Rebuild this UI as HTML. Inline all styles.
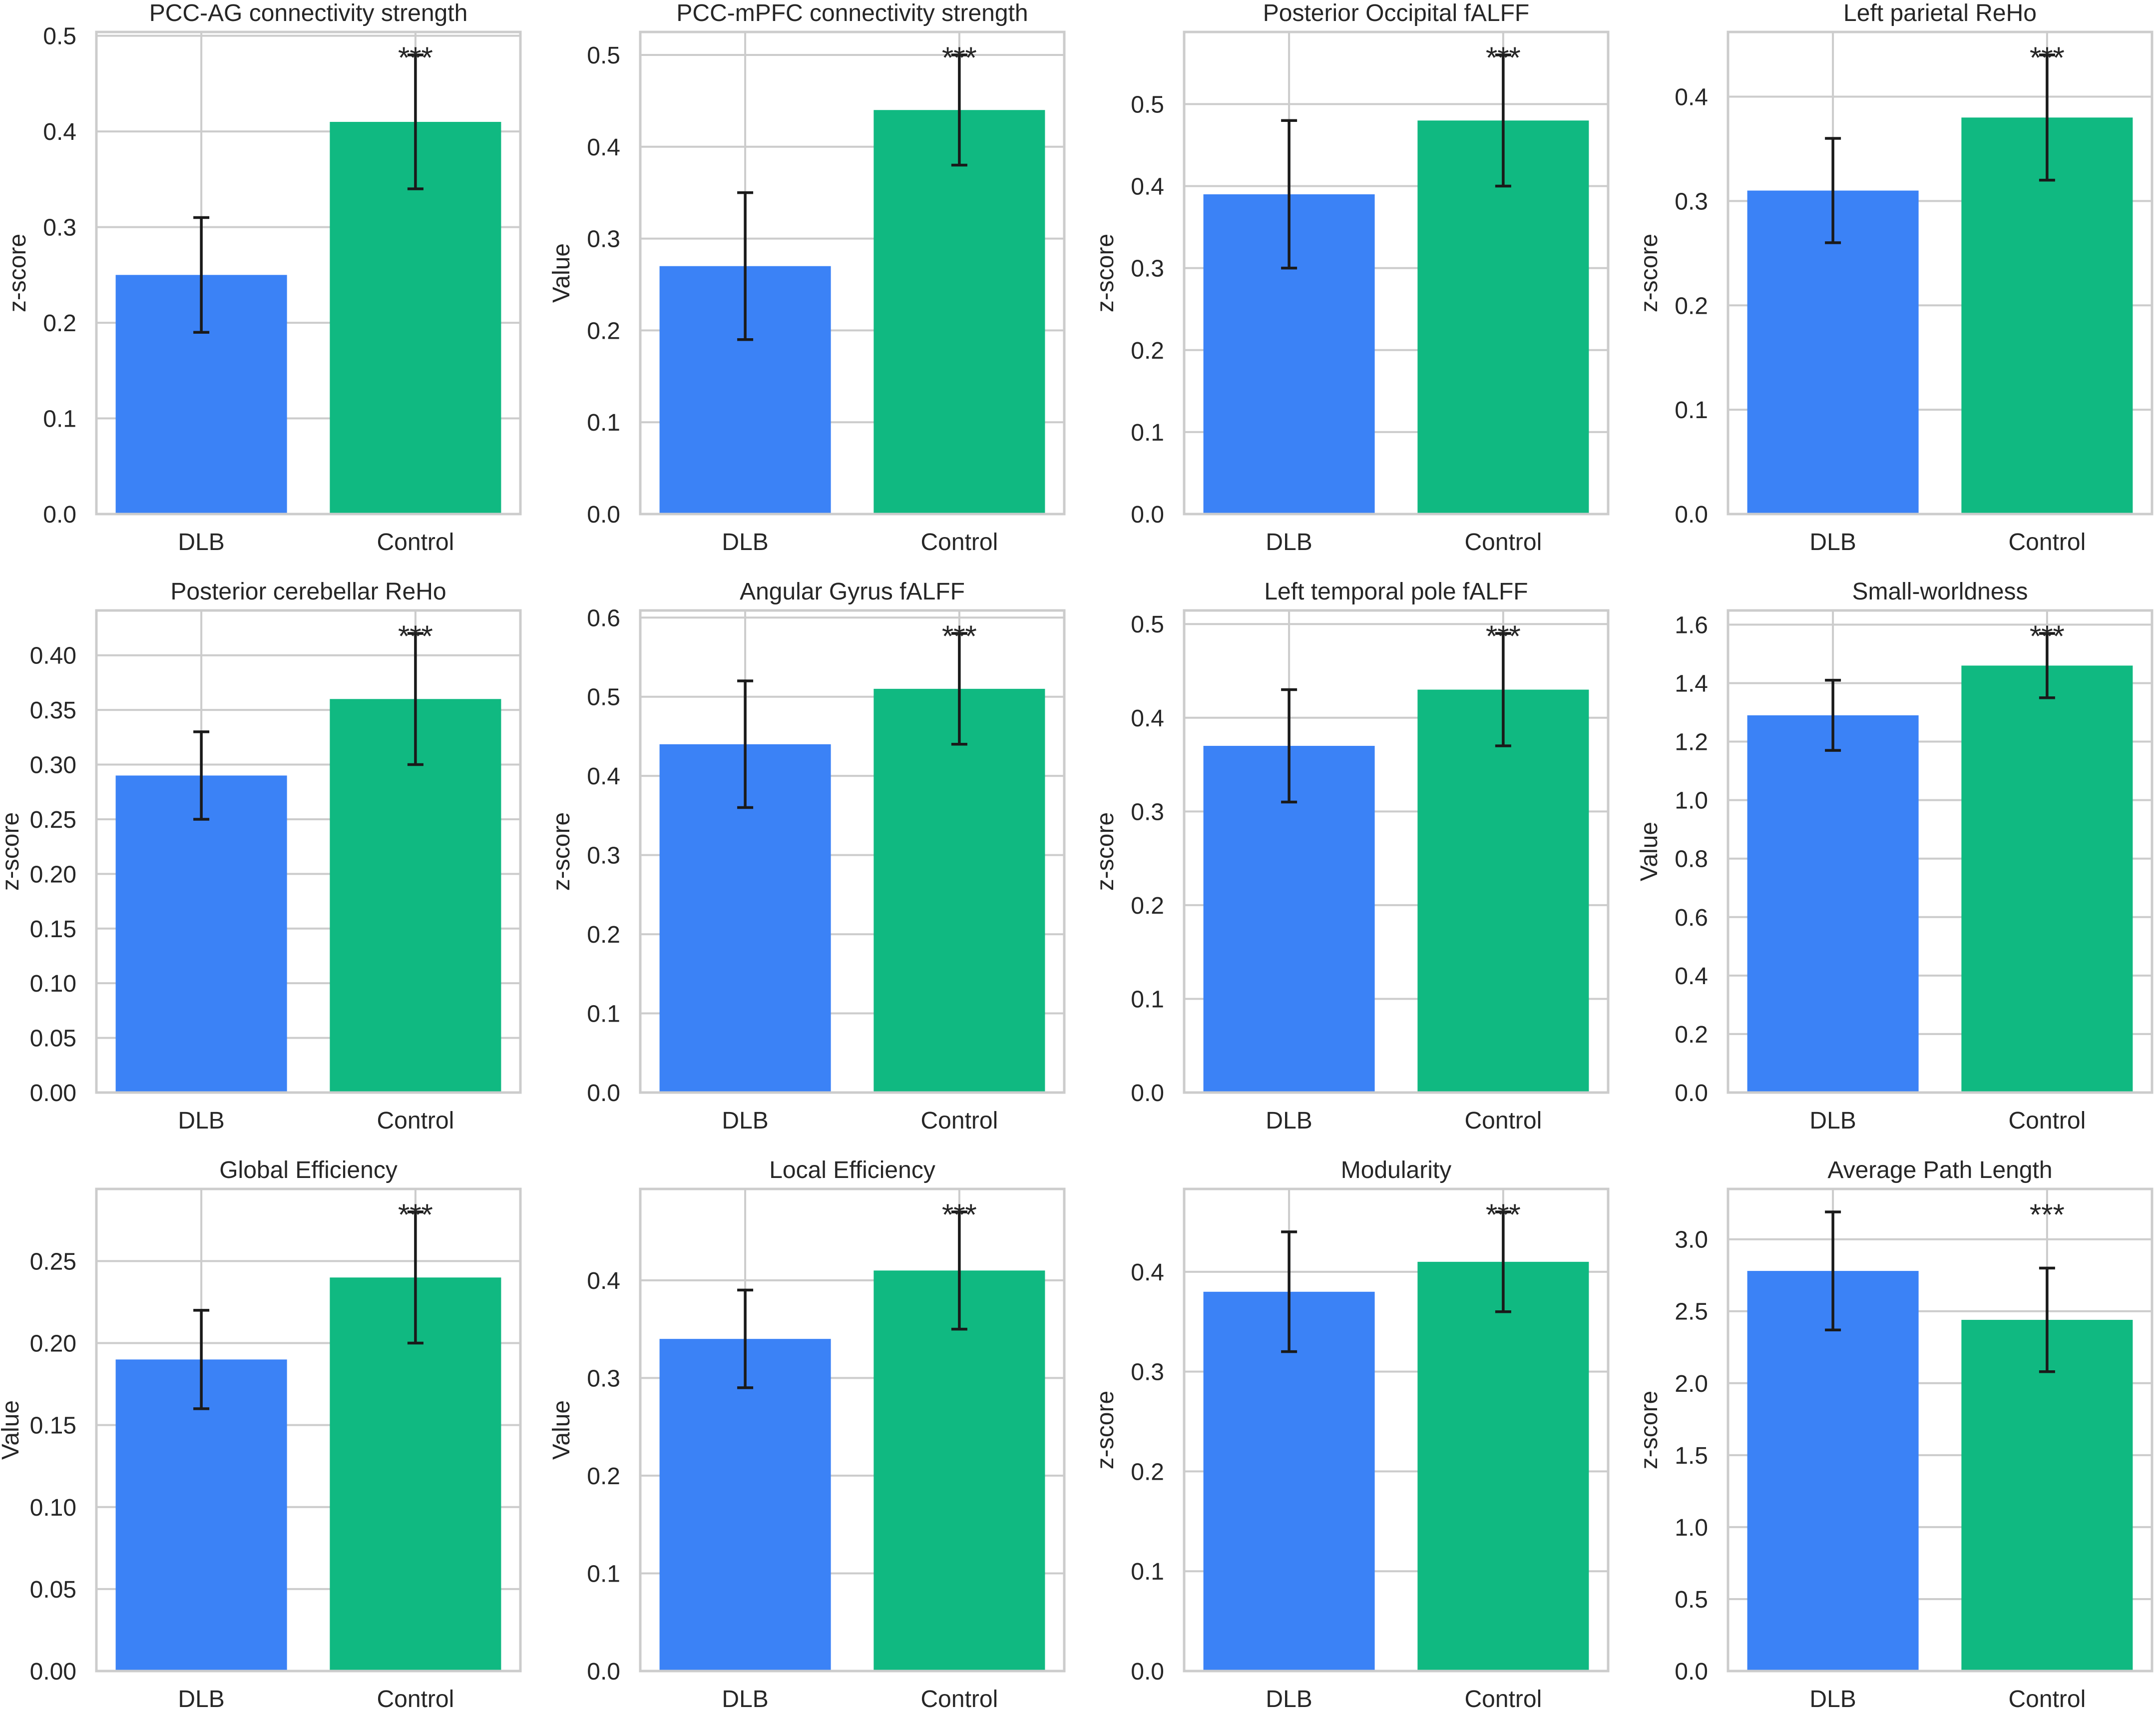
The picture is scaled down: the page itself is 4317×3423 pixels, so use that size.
<!DOCTYPE html>
<html><head><meta charset="utf-8"><style>
html,body{margin:0;padding:0;background:#fff;}
svg{display:block;}
text{font-family:"Liberation Sans",Arial,sans-serif;fill:#262626;}
</style></head>
<body>
<svg id="fig" width="4317" height="3423" viewBox="0 0 4317 3423" xmlns="http://www.w3.org/2000/svg"></svg>
<script>
const titles = ["PCC-AG connectivity strength","PCC-mPFC connectivity strength","Posterior Occipital fALFF","Left parietal ReHo","Posterior cerebellar ReHo","Angular Gyrus fALFF","Left temporal pole fALFF","Small-worldness","Global Efficiency","Local Efficiency","Modularity","Average Path Length"];
const ylabels = ["z-score","Value","z-score","z-score","z-score","z-score","z-score","Value","Value","Value","z-score","z-score"];
const categories = ["DLB","Control"];
const dlbValues = [0.25,0.27,0.39,0.31,0.29,0.44,0.37,1.29,0.19,0.34,0.38,2.78];
const dlbErrors = [0.06,0.08,0.09,0.05,0.04,0.08,0.06,0.12,0.03,0.05,0.06,0.41];
const ctrlValues = [0.41,0.44,0.48,0.38,0.36,0.51,0.43,1.46,0.24,0.41,0.41,2.44];
const ctrlErrors = [0.07,0.06,0.08,0.06,0.06,0.07,0.06,0.11,0.04,0.06,0.05,0.36];
const tickSteps = [0.1,0.1,0.1,0.1,0.05,0.1,0.1,0.2,0.05,0.1,0.1,0.5];
const tickDecimals = [1,1,1,1,2,1,1,1,2,1,1,1];
const significance = ["***","***","***","***","***","***","***","***","***","***","***","***"];

const NS="http://www.w3.org/2000/svg";
const svg=document.getElementById('fig');
function mk(tag,attrs,parent){const e=document.createElementNS(NS,tag);for(const k in attrs)e.setAttribute(k,attrs[k]);(parent||svg).appendChild(e);return e;}
const colors=["#3b82f6","#10b981"];
const L0=193,T0=64,W=849,H=965,DX=1089,DY=1158;
for(let p=0;p<12;p++){
  const col=p%4,row=Math.floor(p/4);
  const L=L0+col*DX,T=T0+row*DY,B=T+H,R=L+W;
  const g=mk('g',{});
  
  
  const vals=[dlbValues[p],ctrlValues[p]],errs=[dlbErrors[p],ctrlErrors[p]];
  const top=Math.max(vals[0]+errs[0],vals[1]+errs[1]);
  const ymax=top*1.05;
  const ys=v=>B-v/ymax*H;
  const xs=v=>L+(v+0.49)/1.98*W;
  const step=tickSteps[p];
  for(let i=0;i*step<=ymax+1e-9;i++){
    const v=i*step,y=ys(v);
    const gl=mk('line',{x1:L,x2:R,y1:y,y2:y,stroke:"#cccccc","stroke-width":4},g);
    
    
    const t=mk('text',{x:L-40,y:y+17,"text-anchor":"end","font-size":48},g);
    t.textContent=v.toFixed(tickDecimals[p]);
    
    
  }
  for(let c=0;c<2;c++){
    const gl=mk('line',{x1:xs(c),x2:xs(c),y1:T,y2:B,stroke:"#cccccc","stroke-width":4},g);
    
    
  }
  for(let c=0;c<2;c++){
    const x0=xs(c-0.4),x1=xs(c+0.4);
    const r=mk('rect',{x:x0,y:ys(vals[c]),width:x1-x0,height:B-ys(vals[c]),fill:colors[c]},g);
    
    
  }
  const sp=mk('rect',{x:L,y:T,width:W,height:H,fill:"none",stroke:"#cccccc","stroke-width":5},g);
  
  
  for(let c=0;c<2;c++){
    const x=xs(c),y1=ys(vals[c]+errs[c]),y2=ys(vals[c]-errs[c]);
    const eg=mk('g',{stroke:"#1a1a1a","stroke-width":5.5},g);
    
    
    mk('line',{x1:x,x2:x,y1:y1,y2:y2},eg);
    mk('line',{x1:x-16,x2:x+16,y1:y1,y2:y1},eg);
    mk('line',{x1:x-16,x2:x+16,y1:y2,y2:y2},eg);
  }
  const st=mk('text',{x:xs(1),y:ys(top)+26,"text-anchor":"middle","font-size":60},g);
  st.textContent=significance[p];
  
  
  for(let c=0;c<2;c++){
    const t=mk('text',{x:xs(c),y:B+72,"text-anchor":"middle","font-size":48},g);
    t.textContent=categories[c];
    
    
  }
  const tt=mk('text',{x:L+W/2,y:T-22,"text-anchor":"middle","font-size":48},g);
  tt.textContent=titles[p];
  
  
  const tw=tickDecimals[p]===2?80:66;
  const yx=L-40-tw-36;
  const yl=mk('text',{x:yx,y:(T+B)/2,"text-anchor":"middle","font-size":48,transform:`rotate(-90 ${yx} ${(T+B)/2})`},g);
  yl.textContent=ylabels[p];
  
  
}
</script>
</body></html>
